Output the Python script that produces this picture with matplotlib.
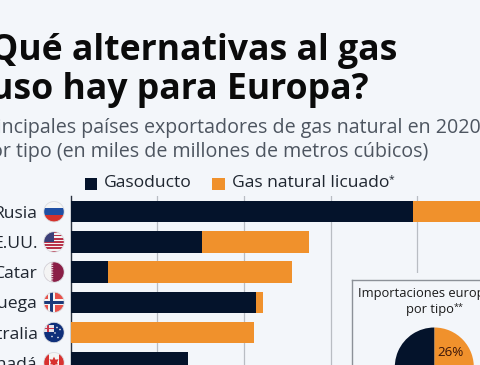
import matplotlib
matplotlib.use('Agg')
import numpy as np
import matplotlib.pyplot as plt
from matplotlib.patches import Circle, Rectangle, Polygon

plt.rcParams['font.family'] = ['Open Sans', 'DejaVu Sans']

countries = ['Rusia', 'E.UU.', 'Catar', 'Noruega', 'Australia', 'Canadá']
pipeline = [197.7, 76, 21.8, 107, 0, 68]
lng = [40.4, 61.5, 106.2, 4, 106, 0]
series_names = ['Gasoducto', 'Gas natural licuado']
pie_values = [26, 74]
x_ticks = [0, 50, 100, 150, 200]

NAVY = '#04132b'
ORANGE = '#f0912c'
BG = '#f3f6fa'
W, H = 480, 365

fig = plt.figure(figsize=(W / 100, H / 100), dpi=100, facecolor=BG)


def px_axes(x0, y0, x1, y1, **kw):
    # pixel box, y measured from the top
    return fig.add_axes([x0 / W, 1 - y1 / H, (x1 - x0) / W, (y1 - y0) / H], **kw)


def put(x, y, s, size, color='#1a1a1a', **kw):
    return fig.text(x / W, 1 - y / H, s, fontsize=size, color=color, va='center', **kw)


# titles, right aligned because the left side runs off the picture
put(397, 51, '¿Qué alternativas al gas', 25.7, '#0b0b0b', weight='bold', ha='right')
put(368.5, 90, 'ruso hay para Europa?', 25.7, '#0b0b0b', weight='bold', ha='right')
put(486, 128, 'Principales países exportadores de gas natural en 2020,', 14.1, '#4d5560', ha='right')
put(428, 152, 'por tipo (en miles de millones de metros cúbicos)', 14.1, '#4d5560', ha='right')

# legend
fig.patches.append(Rectangle((84.5 / W, 1 - 190 / H), 12.5 / W, 12.5 / H, transform=fig.transFigure, fc=NAVY))
fig.patches.append(Rectangle((212 / W, 1 - 190 / H), 12.5 / W, 12.5 / H, transform=fig.transFigure, fc=ORANGE))
put(104, 183, series_names[0], 12.6, '#1f2630')
put(232, 183, series_names[1], 12.6, '#1f2630')
put(389, 180, '*', 7.5, '#1f2630')

# bars
ax = px_axes(70.5, 196, W, H, facecolor='none')
y = np.arange(len(countries))
ax.barh(y, pipeline, height=0.705, color=NAVY, zorder=3)
ax.barh(y, lng, left=pipeline, height=0.705, color=ORANGE, zorder=3)
ax.set_xlim(0, (W - 70.5) / 86.7 * 50)
ax.set_ylim(5.075, -0.52)
ax.set_xticks(x_ticks[1:])
ax.set_yticks(y)
ax.set_yticklabels(countries, fontsize=12.6, color='#1f2630')
ax.tick_params(axis='y', length=0, pad=23.8)
ax.tick_params(axis='x', length=0, labelbottom=False)
ax.grid(axis='x', color='#b9bdc3', lw=0.9, zorder=1)
ax.set_axisbelow(True)
for s in ['top', 'right', 'bottom']:
    ax.spines[s].set_visible(False)
ax.spines['left'].set_color('#2b3340')
ax.spines['left'].set_linewidth(1)

# flags, drawn in a pixel overlay
fx = px_axes(0, 0, W, H, facecolor='none')
fx.set_xlim(0, W)
fx.set_ylim(H, 0)
fx.axis('off')
FLAG_X = 54
FLAG_R = 10.2


def flag_shapes(name, cy):
    x0 = FLAG_X - FLAG_R
    d = 2 * FLAG_R
    top = cy - FLAG_R
    out = []

    def band(x, yy, w, h, c):
        out.append(Rectangle((x, yy), w, h, fc=c, lw=0))

    if name == 'Rusia':
        band(x0, top, d, d / 3, '#f4f4f4')
        band(x0, top + d / 3, d, d / 3, '#1f4fa3')
        band(x0, top + 2 * d / 3, d, d / 3, '#d5322c')
    elif name == 'E.UU.':
        for k in range(13):
            band(x0, top + k * d / 13, d, d / 13, '#b8334a' if k % 2 == 0 else '#f4f4f4')
        band(x0, top, d * 0.5, d * 0.5, '#3c3f78')
    elif name == 'Catar':
        band(x0, top, d, d, '#8a1f47')
        band(x0, top, d * 0.36, d, '#f4f4f4')
        tri = []
        for k in range(9):
            tri.append((x0 + d * 0.36, top + k * d / 9))
            tri.append((x0 + d * 0.48, top + (k + 0.5) * d / 9))
        tri.append((x0 + d * 0.36, top + d))
        out.append(Polygon(tri, fc='#f4f4f4', lw=0))
    elif name == 'Noruega':
        band(x0, top, d, d, '#e8504a')
        band(x0, cy - 3.2, d, 6.4, '#f4f4f4')
        band(x0 + 4.5, top, 6.4, d, '#f4f4f4')
        band(x0, cy - 1.6, d, 3.2, '#1b3a7a')
        band(x0 + 6.1, top, 3.2, d, '#1b3a7a')
    elif name == 'Australia':
        band(x0, top, d, d, '#0f2f7a')
        band(x0, top + 2.5, d * 0.48, d * 0.36, '#e5e3ea')
        band(x0 + 3.5, top + 2.5, 2, d * 0.36, '#c9344a')
        band(x0, top + 5.3, d * 0.48, 1.6, '#c9344a')
        for dx, dy in [(4, 5), (-2, 4), (6, -3), (3, -5), (1, 0.5)]:
            out.append(Circle((FLAG_X + dx, cy + dy), 0.8, fc='#f4f4f4', lw=0))
    elif name == 'Canadá':
        band(x0, top, d, d, '#f4f4f4')
        band(x0, top, d * 0.26, d, '#d8312f')
        band(x0 + d * 0.74, top, d * 0.26, d, '#d8312f')
        leaf = [(0, -6), (1.5, -3), (4.5, -3.5), (3, 0), (4, 1.5), (1, 2), (0.6, 5), (-0.6, 5),
                (-1, 2), (-4, 1.5), (-3, 0), (-4.5, -3.5), (-1.5, -3)]
        out.append(Polygon([(FLAG_X + a, cy + b) for a, b in leaf], fc='#d8312f', lw=0))
    return out


for i, name in enumerate(countries):
    cy = 211.7 + 30.2 * i
    clip = Circle((FLAG_X, cy), FLAG_R, transform=fx.transData)
    for shape in flag_shapes(name, cy):
        fx.add_patch(shape)
        shape.set_clip_path(clip)
    fx.add_patch(Circle((FLAG_X, cy), FLAG_R, fc='none', ec='#d9dbe0', lw=0.6))

# gap above the inset where the last grid line stops
fx.add_patch(Rectangle((400, 273), 30, 7, fc=BG, lw=0))

# inset box with the pie
box = px_axes(351.5, 279.5, W + 5, H + 5, facecolor=BG)
box.set_xticks([])
box.set_yticks([])
for s in box.spines.values():
    s.set_color('#8c9198')
    s.set_linewidth(1)
box.set_zorder(5)

pie_ax = px_axes(434.3 - 39.5, 367 - 39.5, 434.3 + 39.5, 367 + 39.5, facecolor='none')
pie_ax.set_zorder(6)
pie_ax.pie(pie_values, colors=[ORANGE, NAVY], startangle=90, counterclock=False, radius=1,
           wedgeprops={'lw': 0})
pie_ax.set_xlim(-1, 1)
pie_ax.set_ylim(-1, 1)
pie_ax.text(0.42, 0.36, '26%', fontsize=9.6, color='#3a1408', ha='center', va='center')

put(358, 294, 'Importaciones europeas', 9.3, zorder=10)
put(430, 310, 'por tipo', 9.3, ha='center', zorder=10)
put(453.5, 307, '**', 6.5, zorder=10)

fig.savefig('out.png', dpi=100, facecolor=BG)
